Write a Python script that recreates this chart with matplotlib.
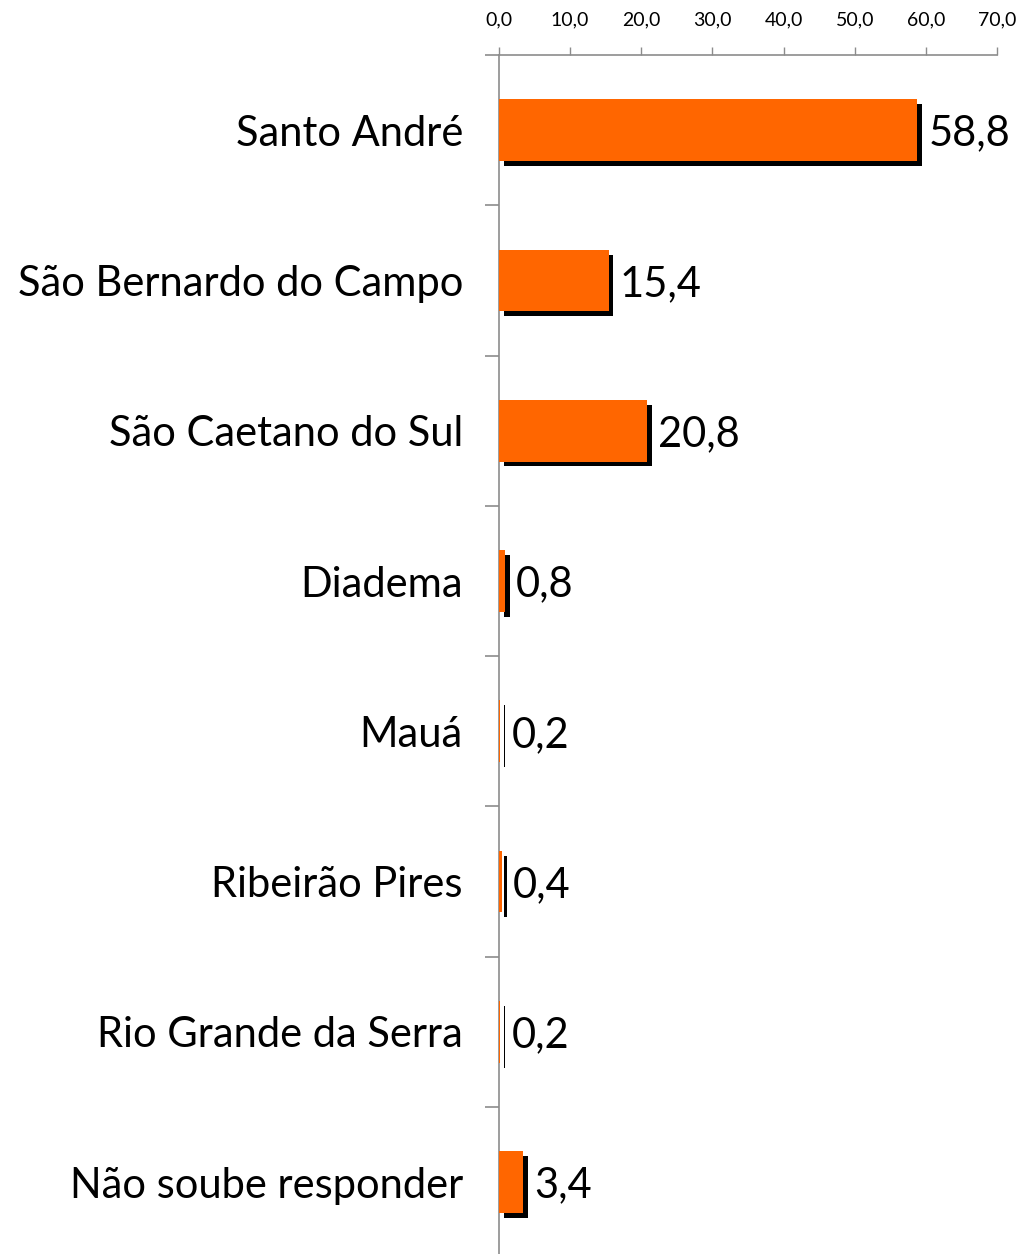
import matplotlib
matplotlib.use("Agg")
import matplotlib.pyplot as plt
import matplotlib.patheffects as pe

categories = [
    "Santo André",
    "São Bernardo do Campo",
    "São Caetano do Sul",
    "Diadema",
    "Mauá",
    "Ribeirão Pires",
    "Rio Grande da Serra",
    "Não soube responder",
]
values = [58.8, 15.4, 20.8, 0.8, 0.2, 0.4, 0.2, 3.4]
xticks = [0, 10, 20, 30, 40, 50, 60, 70]
xtick_labels = ["0,0", "10,0", "20,0", "30,0", "40,0", "50,0", "60,0", "70,0"]

plt.rcParams["font.family"] = ["Lato", "DejaVu Sans"]
axis_gray = "#8c8c8c"

fig = plt.figure(figsize=(10.19, 12.54), dpi=100)
ax = fig.add_axes([0.4897, -0.0026, 0.4887, 0.9587])

pos = list(range(len(categories)))
bars = ax.barh(pos, values, height=0.41, color="#ff6600", zorder=3)
for b in bars:
    b.set_path_effects([
        pe.SimplePatchShadow(offset=(3.5, -3.5), shadow_rgbFace="black", alpha=1.0),
        pe.Normal(),
    ])

# value labels with decimal comma
labels = [f"{v:.1f}".replace(".", ",") for v in values]
texts = ax.bar_label(bars, labels=labels, padding=8, fontsize=30, color="black")
for t in texts:
    t.set_va("center_baseline")

ax.set_xlim(0, 70)
ax.set_ylim(len(categories) - 0.5, -0.5)

ax.xaxis.tick_top()
ax.set_xticks(xticks)
ax.set_xticklabels(xtick_labels)
ax.tick_params(axis="x", direction="out", length=6, width=1, color=axis_gray,
               pad=13, labelsize=14)

ax.set_yticks(pos)
ax.set_yticklabels(categories, fontsize=30)
ax.set_yticks([p - 0.5 for p in pos] + [len(pos) - 0.5], minor=True)
ax.tick_params(axis="y", which="major", length=0, pad=26)
ax.tick_params(axis="y", which="minor", length=10, width=1.2, color=axis_gray)

for side in ["right", "bottom"]:
    ax.spines[side].set_visible(False)
for side in ["left", "top"]:
    ax.spines[side].set_color(axis_gray)
    ax.spines[side].set_linewidth(1.2)

fig.savefig("out.png", dpi=100)
